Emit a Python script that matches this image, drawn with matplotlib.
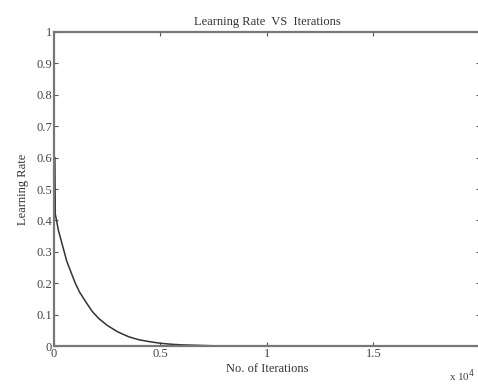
import matplotlib
matplotlib.use("Agg")
import matplotlib.pyplot as plt

# learning rate read along the training run (iterations in units of 1e4)
iterations = [0.004, 0.006, 0.012, 0.02, 0.03, 0.04, 0.05, 0.06, 0.08, 0.10, 0.12,
              0.15, 0.18, 0.21, 0.25, 0.30, 0.35, 0.40, 0.45, 0.50, 0.55,
              0.60, 0.65, 0.70, 0.75]
learning_rate = [0.60, 0.42, 0.40, 0.37, 0.345, 0.32, 0.295, 0.27, 0.235, 0.20,
                 0.172, 0.14, 0.11, 0.088, 0.066, 0.045, 0.03, 0.02, 0.014,
                 0.009, 0.006, 0.004, 0.003, 0.002, 0.001]

x_ticks = [0, 0.5, 1, 1.5]
x_tick_labels = ["0", "0.5", "1", "1.5"]
y_ticks = [0, 0.1, 0.2, 0.3, 0.4, 0.5, 0.6, 0.7, 0.8, 0.9, 1]
y_tick_labels = ["0", "0.1", "0.2", "0.3", "0.4", "0.5", "0.6", "0.7", "0.8", "0.9", "1"]

plt.rcParams["font.family"] = ["Liberation Serif", "DejaVu Serif"]
plt.rcParams["font.size"] = 9

fig = plt.figure(figsize=(4.78, 3.85), dpi=100)
ax = fig.add_axes([0.113, 0.101, 0.891, 0.816])

ax.plot(iterations, learning_rate, color="#333333", linewidth=1.1)

ax.set_xlim(0, 2)
ax.set_ylim(0, 1)
ax.set_xticks(x_ticks)
ax.set_xticklabels(x_tick_labels)
ax.set_yticks(y_ticks)
ax.set_yticklabels(y_tick_labels)
ax.tick_params(direction="in", length=3, width=0.8, colors="#555555",
               labelcolor="#444444", top=True, right=True, pad=1.5)
for s in ax.spines.values():
    s.set_color("#777777")
    s.set_linewidth(1.6)

ax.set_title("Learning Rate  VS  Iterations", fontsize=9, color="#333333", pad=5)
ax.set_xlabel("No. of Iterations", fontsize=9, color="#333333", labelpad=2)
ax.set_ylabel("Learning Rate", fontsize=9, color="#333333", labelpad=5)
fig.text(0.995, 0.012, r"x 10$^4$", fontsize=8, color="#444444", ha="right")

fig.savefig("out.png", dpi=100)
